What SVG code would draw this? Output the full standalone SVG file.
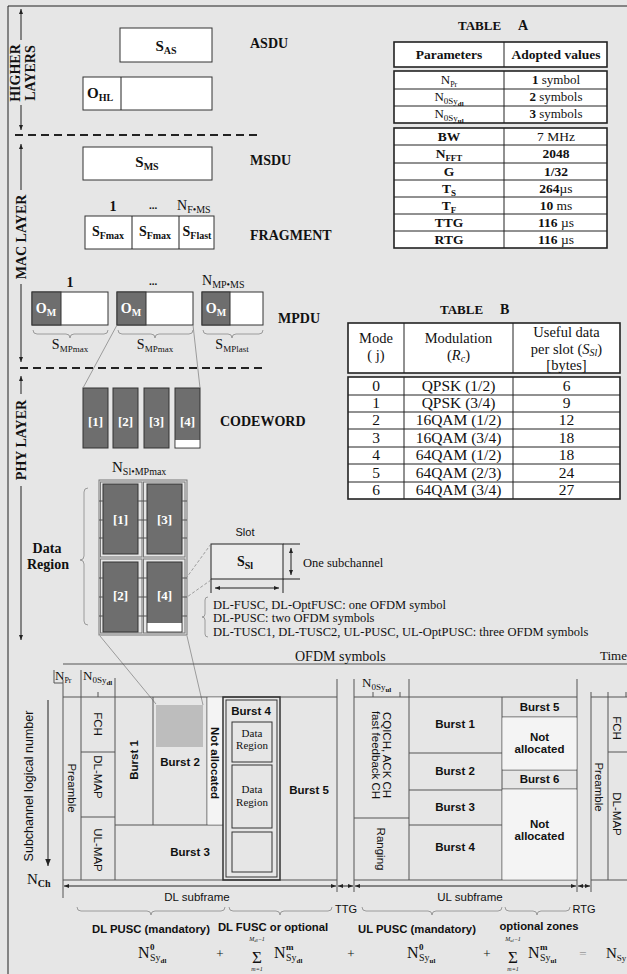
<svg xmlns="http://www.w3.org/2000/svg" width="627" height="974" viewBox="0 0 627 974">
<defs>
<marker id="ah" viewBox="0 0 10 10" refX="10" refY="5" markerWidth="5" markerHeight="5" orient="auto-start-reverse"><path d="M0,1 L10,5 L0,9 z" fill="#222"/></marker>
<marker id="ahb" viewBox="0 0 10 10" refX="10" refY="5" markerWidth="7" markerHeight="7" orient="auto-start-reverse"><path d="M0,1 L10,5 L0,9 z" fill="#222"/></marker>
</defs>
<style>
.sf{font-family:"Liberation Serif","Times New Roman",serif;fill:#111}
.ss{font-family:"Liberation Sans",Arial,sans-serif;fill:#111}
.b{font-weight:bold}
.w{fill:#fff}
.ln{stroke:#555;stroke-width:1;fill:none}
.lk{stroke:#222;stroke-width:1;fill:none}
.box{fill:#fff;stroke:#333;stroke-width:1}
.dk{fill:#6e6e6e;stroke:#333;stroke-width:1}
.tbo{fill:#fff;stroke:#222;stroke-width:1.6}
.dash{stroke:#222;stroke-width:2;stroke-dasharray:8,5;fill:none}
.gl{stroke:#888;stroke-width:0.8;fill:none}
.dl{stroke:#888;stroke-width:0.8;stroke-dasharray:3,2;fill:none}
.m{text-anchor:middle}
</style>
<rect x="0" y="0" width="627" height="974" fill="#e6e6e6"/>
<path class="lk" d="M8,6 H627 M8,6 V974"/>

<g id="layer-labels">
<path class="lk" d="M21,40 V9" marker-end="url(#ah)"/>
<path class="lk" d="M21,105 V130" marker-end="url(#ah)"/>
<text class="sf b m" font-size="14" transform="translate(20,73) rotate(-90)">HIGHER</text>
<text class="sf b m" font-size="14" transform="translate(35,73) rotate(-90)">LAYERS</text>
<path class="dash" d="M15,135 H262"/>
<path class="lk" d="M21,190 V144" marker-end="url(#ah)"/>
<path class="lk" d="M21,284 V362" marker-end="url(#ah)"/>
<text class="sf b m" font-size="14" transform="translate(26,237) rotate(-90)">MAC LAYER</text>
<path class="dash" d="M20,368 H267"/>
<path class="lk" d="M21,394 V376" marker-end="url(#ah)"/>
<path class="lk" d="M21,486 V640" marker-end="url(#ah)"/>
<text class="sf b m" font-size="14" transform="translate(26,440) rotate(-90)">PHY LAYER</text>
</g>

<g id="asdu">
<rect class="box" x="120" y="28" width="92" height="34"/>
<text class="sf b m" x="166" y="51" font-size="15">S<tspan font-size="10" dy="3">AS</tspan></text>
<text class="sf b" x="250" y="48" font-size="14">ASDU</text>
</g>
<g id="ohl">
<rect class="box" x="83" y="77" width="129" height="33"/>
<path class="lk" d="M121,77 V110"/>
<text class="sf b" x="87" y="98" font-size="15">O<tspan font-size="10" dy="3">HL</tspan></text>
</g>
<g id="msdu">
<rect class="box" x="83" y="147" width="129" height="33"/>
<text class="sf b m" x="147" y="167" font-size="15">S<tspan font-size="10" dy="3">MS</tspan></text>
<text class="sf b" x="250" y="165" font-size="14">MSDU</text>
</g>
<g id="fragment">
<text class="sf b m" x="113" y="211" font-size="14">1</text>
<text class="sf b m" x="153" y="209" font-size="11">...</text>
<text class="sf" x="177" y="210" font-size="14">N<tspan font-size="10" dy="3">F•MS</tspan></text>
<rect class="box" x="85" y="216" width="129" height="33"/>
<path class="lk" d="M132,216 V249 M179,216 V249"/>
<text class="sf b m" x="108" y="236" font-size="14">S<tspan font-size="10" dy="3">Fmax</tspan></text>
<text class="sf b m" x="155" y="236" font-size="14">S<tspan font-size="10" dy="3">Fmax</tspan></text>
<text class="sf b m" x="197" y="236" font-size="14">S<tspan font-size="10" dy="3">Flast</tspan></text>
<text class="sf b" x="250" y="240" font-size="14">FRAGMENT</text>
</g>
<g id="mpdu">
<text class="sf b m" x="70" y="287" font-size="14">1</text>
<text class="sf b m" x="153" y="285" font-size="11">...</text>
<text class="sf" x="202" y="285" font-size="14">N<tspan font-size="10" dy="3">MP•MS</tspan></text>
<rect class="box" x="32" y="292" width="76" height="33"/>
<rect class="dk" x="32" y="292" width="29" height="33"/>
<rect class="box" x="117" y="292" width="76" height="33"/>
<rect class="dk" x="117" y="292" width="29" height="33"/>
<rect class="box" x="202" y="292" width="61" height="33"/>
<rect class="dk" x="202" y="292" width="28" height="33"/>
<text class="sf b m w" x="46" y="313" font-size="14">O<tspan font-size="10" dy="3">M</tspan></text>
<text class="sf b m w" x="131" y="313" font-size="14">O<tspan font-size="10" dy="3">M</tspan></text>
<text class="sf b m w" x="216" y="313" font-size="14">O<tspan font-size="10" dy="3">M</tspan></text>
<path class="gl" d="M33,330 Q33,334 37,334 L66,334 Q70,334 70,338 Q70,334 74,334 L104,334 Q108,334 108,330"/>
<path class="gl" d="M118,330 Q118,334 122,334 L151,334 Q155,334 155,338 Q155,334 159,334 L189,334 Q193,334 193,330"/>
<path class="gl" d="M203,330 Q203,334 207,334 L228,334 Q232,334 232,338 Q232,334 236,334 L259,334 Q263,334 263,330"/>
<text class="sf m" x="70" y="349" font-size="14">S<tspan font-size="9" dy="3">MPmax</tspan></text>
<text class="sf m" x="155" y="349" font-size="14">S<tspan font-size="9" dy="3">MPmax</tspan></text>
<text class="sf m" x="232" y="349" font-size="14">S<tspan font-size="9" dy="3">MPlast</tspan></text>
<text class="sf b" x="278" y="323" font-size="14">MPDU</text>
</g>
<g id="codeword">
<rect class="dk" x="83" y="388" width="25" height="60"/>
<rect class="dk" x="113" y="388" width="25" height="60"/>
<rect class="dk" x="144" y="388" width="25" height="60"/>
<rect class="dk" x="175" y="388" width="25" height="60"/>
<rect x="175.5" y="440" width="24" height="7.5" fill="#fff"/>
<text class="sf b m w" x="95.5" y="426" font-size="13">[1]</text>
<text class="sf b m w" x="125.5" y="426" font-size="13">[2]</text>
<text class="sf b m w" x="156.5" y="426" font-size="13">[3]</text>
<text class="sf b m w" x="187.5" y="426" font-size="13">[4]</text>
<text class="sf b" x="220" y="426" font-size="14">CODEWORD</text>
</g>
<g id="data-region">
<text class="sf" x="112" y="472" font-size="15">N<tspan font-size="10" dy="3">Sl•MPmax</tspan></text>
<rect x="99" y="480" width="88" height="155" fill="none" stroke="#777" stroke-width="1"/>
<rect x="100.5" y="482" width="41.5" height="75" fill="none" stroke="#777"/>
<rect x="143.5" y="482" width="41.5" height="75" fill="none" stroke="#777"/>
<rect x="100.5" y="559" width="41.5" height="74" fill="none" stroke="#777"/>
<rect x="143.5" y="559" width="41.5" height="74" fill="none" stroke="#777"/>
<rect class="dk" x="103" y="484" width="35" height="70"/>
<rect class="dk" x="147" y="484" width="35" height="70"/>
<rect class="dk" x="103" y="562" width="35" height="70"/>
<rect class="dk" x="147" y="562" width="35" height="70"/>
<rect x="147.5" y="623" width="34" height="8.5" fill="#fff"/>
<path class="ln" d="M99,501 H103 M99,520 H103 M99,538 H103 M138,501 H147 M138,520 H147 M138,538 H147 M182,501 H187 M182,520 H187 M182,538 H187 M99,578 H103 M99,597 H103 M99,616 H103 M138,578 H147 M138,597 H147 M138,616 H147 M182,578 H187 M182,597 H187 M182,616 H187"/>
<text class="sf b m w" x="120.5" y="524" font-size="13">[1]</text>
<text class="sf b m w" x="164.5" y="524" font-size="13">[3]</text>
<text class="sf b m w" x="120.5" y="600" font-size="13">[2]</text>
<text class="sf b m w" x="164.5" y="600" font-size="13">[4]</text>
<path class="gl" d="M88,488 Q84,488 84,492 L84,556 Q84,560 80,560 Q84,560 84,564 L84,621 Q84,625 88,625"/>
<text class="sf b m" x="47" y="553" font-size="14">Data</text>
<text class="sf b m" x="48" y="569" font-size="14">Region</text>
</g>
<g id="slot">
<text class="ss m" x="245" y="536" font-size="11">Slot</text>
<rect x="211" y="544" width="72" height="35" fill="#ececec" stroke="#222"/>
<text class="sf b m" x="245" y="566" font-size="14">S<tspan font-size="10" dy="3">Sl</tspan></text>
<path class="lk" d="M283,544 H300 M283,579 H300 M211,579 V593 M283,579 V593"/>
<path class="lk" d="M291,548 V575" marker-start="url(#ah)" marker-end="url(#ah)"/>
<path class="lk" d="M215,588 H279" marker-start="url(#ah)" marker-end="url(#ah)"/>
<text class="sf" x="303" y="567" font-size="12.5">One subchannel</text>
<path class="gl" d="M208,597 Q205,597 205,600 L205,614 Q205,617 202,617 Q205,617 205,620 L205,634 Q205,637 208,637"/>
<text class="sf" x="213" y="609" font-size="12.5">DL-FUSC, DL-OptFUSC: one OFDM symbol</text>
<text class="sf" x="213" y="622" font-size="12.5">DL-PUSC: two OFDM symbols</text>
<text class="sf" x="213" y="636" font-size="12.5">DL-TUSC1, DL-TUSC2, UL-PUSC, UL-OptPUSC: three OFDM symbols</text>
</g>

<g id="table-a">
<text class="sf b" x="458" y="30" font-size="13">TABLE</text>
<text class="sf b" x="518" y="30" font-size="14">A</text>
<rect class="tbo" x="394" y="42" width="213" height="25"/>
<path class="lk" d="M504,42 V67"/>
<text class="sf b m" x="449" y="59" font-size="13.5">Parameters</text>
<text class="sf b m" x="556" y="59" font-size="13.5">Adopted values</text>
<rect class="tbo" x="394" y="71" width="213" height="52"/>
<path class="lk" d="M504,71 V123 M394,89 H607 M394,106 H607"/>
<text class="sf m" x="449" y="84" font-size="13">N<tspan font-size="8" dy="3">Pr</tspan></text>
<text class="sf m" x="449" y="101" font-size="13">N<tspan font-size="9" dy="3">0Sy</tspan><tspan font-size="7" font-weight="bold" dy="2">dl</tspan></text>
<text class="sf m" x="449" y="118" font-size="13">N<tspan font-size="9" dy="3">0Sy</tspan><tspan font-size="7" font-weight="bold" dy="2">ul</tspan></text>
<text class="sf m" x="556" y="84" font-size="13"><tspan font-weight="bold">1</tspan> symbol</text>
<text class="sf m" x="556" y="101" font-size="13"><tspan font-weight="bold">2</tspan> symbols</text>
<text class="sf m" x="556" y="118" font-size="13"><tspan font-weight="bold">3</tspan> symbols</text>
<rect class="tbo" x="394" y="128" width="213" height="120"/>
<path class="lk" d="M504,128 V248 M394,145 H607 M394,163 H607 M394,180 H607 M394,197 H607 M394,214 H607 M394,231 H607"/>
<text class="sf b m" x="449" y="141" font-size="13.5">BW</text>
<text class="sf b m" x="449" y="158" font-size="13.5">N<tspan font-size="9" dy="3">FFT</tspan></text>
<text class="sf b m" x="449" y="176" font-size="13.5">G</text>
<text class="sf b m" x="449" y="193" font-size="13.5">T<tspan font-size="9" dy="3">S</tspan></text>
<text class="sf b m" x="449" y="210" font-size="13.5">T<tspan font-size="9" dy="3">F</tspan></text>
<text class="sf b m" x="449" y="227" font-size="13.5">TTG</text>
<text class="sf b m" x="449" y="244" font-size="13.5">RTG</text>
<text class="sf m" x="556" y="141" font-size="13.5">7 MHz</text>
<text class="sf b m" x="556" y="158" font-size="13.5">2048</text>
<text class="sf b m" x="556" y="176" font-size="13.5">1/32</text>
<text class="sf m" x="556" y="193" font-size="13.5"><tspan font-weight="bold">264</tspan>µs</text>
<text class="sf m" x="556" y="210" font-size="13.5"><tspan font-weight="bold">10</tspan> ms</text>
<text class="sf m" x="556" y="227" font-size="13.5"><tspan font-weight="bold">116</tspan> µs</text>
<text class="sf m" x="556" y="244" font-size="13.5"><tspan font-weight="bold">116</tspan> µs</text>
</g>

<g id="table-b">
<text class="sf b" x="440" y="314" font-size="13">TABLE</text>
<text class="sf b" x="500" y="314" font-size="14">B</text>
<rect class="tbo" x="348" y="323" width="272" height="50"/>
<path class="lk" d="M404,323 V373 M513,323 V373"/>
<text class="sf m" x="376" y="343" font-size="14.5">Mode</text>
<text class="sf m" x="376" y="360" font-size="14.5">( j)</text>
<text class="sf m" x="458.5" y="343" font-size="14.5">Modulation</text>
<text class="sf m" x="458.5" y="360" font-size="14.5">(<tspan font-style="italic">R</tspan><tspan font-style="italic" font-size="10" dy="2">c</tspan><tspan dy="-2">)</tspan></text>
<text class="sf m" x="566.5" y="337" font-size="14.5">Useful data</text>
<text class="sf m" x="566.5" y="354" font-size="14.5">per slot (<tspan font-style="italic">S</tspan><tspan font-style="italic" font-size="10" dy="2">Sl</tspan><tspan dy="-2">)</tspan></text>
<text class="sf m" x="566.5" y="370" font-size="14.5">[bytes]</text>
<rect class="tbo" x="348" y="377" width="272" height="122"/>
<path class="lk" d="M404,377 V499 M513,377 V499 M348,395 H620 M348,412 H620 M348,429 H620 M348,447 H620 M348,464 H620 M348,482 H620"/>
<g class="sf m" font-size="15.5">
<text x="376" y="391">0</text><text x="458.5" y="391">QPSK (1/2)</text><text x="566.5" y="391">6</text>
<text x="376" y="408">1</text><text x="458.5" y="408">QPSK (3/4)</text><text x="566.5" y="408">9</text>
<text x="376" y="425">2</text><text x="458.5" y="425">16QAM (1/2)</text><text x="566.5" y="425">12</text>
<text x="376" y="443">3</text><text x="458.5" y="443">16QAM (3/4)</text><text x="566.5" y="443">18</text>
<text x="376" y="460">4</text><text x="458.5" y="460">64QAM (1/2)</text><text x="566.5" y="460">18</text>
<text x="376" y="478">5</text><text x="458.5" y="478">64QAM (2/3)</text><text x="566.5" y="478">24</text>
<text x="376" y="495">6</text><text x="458.5" y="495">64QAM (3/4)</text><text x="566.5" y="495">27</text>
</g>
</g>

<g id="connectors">
<path class="gl" d="M117,325 L83,388 M193,325 L200,388"/>
<path class="dl" d="M211,544 L187,577 M211,580 L187,597"/>
<path class="gl" d="M100,636 L156,704 M187,636 L203,705"/>
</g>

<g id="frame">
<path class="ln" d="M63,664 H627"/>
<text class="sf" x="295" y="661" font-size="14">OFDM symbols</text>
<text class="sf" x="600" y="660" font-size="13">Time</text>
<path class="ln" d="M54,670 V683 H63 M63,680 V898 M81,670 V880 M115,678 V880 M98,692 V697"/>
<text class="sf" x="55" y="680" font-size="13">N<tspan font-size="8" dy="3">Pr</tspan></text>
<text class="sf" x="83" y="680" font-size="13">N<tspan font-size="9" dy="3">0Sy</tspan><tspan font-size="7" font-weight="bold" dy="2">dl</tspan></text>
<path class="ln" d="M63,697 H337 M63,880 H337 M81,752 H115 M81,817 H115 M153,697 V825 M207,697 V825 M115,825 H223"/>
<rect x="207.5" y="697.5" width="15" height="127" fill="#f4f4f4"/>
<rect x="156" y="705" width="47" height="42" fill="#bdbdbd"/>
<rect x="223" y="697" width="57" height="183" fill="none" stroke="#333" stroke-width="1.5"/>
<rect x="226" y="700" width="51" height="177" fill="none" stroke="#333" stroke-width="1"/>
<rect x="232" y="722" width="40" height="40" fill="none" stroke="#333"/>
<rect x="232" y="765" width="40" height="63" fill="none" stroke="#333"/>
<rect x="232" y="832" width="40" height="40" fill="none" stroke="#333"/>
<g class="ss" font-size="11.5">
<text class="m" transform="translate(72,788) rotate(90)" dy="4">Preamble</text>
<text class="m" transform="translate(98,724) rotate(90)" dy="4">FCH</text>
<text class="m" transform="translate(98,777) rotate(90)" dy="4">DL-MAP</text>
<text class="m" transform="translate(98,850) rotate(90)" dy="4">UL-MAP</text>
<text class="m b" transform="translate(134,760) rotate(-90)" dy="4">Burst 1</text>
<text class="m b" x="180" y="766">Burst 2</text>
<text class="m b" transform="translate(215,763) rotate(90)" dy="4">Not allocated</text>
<text class="m b" x="251" y="715">Burst 4</text>
<text class="m b" x="190" y="856">Burst 3</text>
<text class="m b" x="309" y="794">Burst 5</text>
</g>
<g class="sf m" font-size="11">
<text x="252" y="737">Data</text><text x="252" y="749">Region</text>
<text x="252" y="793">Data</text><text x="252" y="806">Region</text>
</g>
<path class="ln" d="M337,679 V892 M354,679 V892 M409,679 V880 M577,679 V892 M373,692 V697 M400,692 V697"/>
<text class="sf" x="362" y="687" font-size="13">N<tspan font-size="9" dy="3">0Sy</tspan><tspan font-size="7" font-weight="bold" dy="2">ul</tspan></text>
<path class="ln" d="M354,697 H577 M354,880 H577 M354,818 H409 M409,753 H502 M409,790 H502 M409,825 H502 M502,697 V880 M502,717 H577 M502,770 H577 M502,789 H577"/>
<rect x="502.5" y="717.5" width="74" height="52" fill="#f4f4f4"/>
<rect x="502.5" y="789.5" width="74" height="90" fill="#f4f4f4"/>
<g class="ss" font-size="11.5">
<text transform="translate(382,755) rotate(90)" class="m" y="-1">CQICH, ACK CH</text>
<text transform="translate(382,755) rotate(90)" class="m" y="10">fast feedback CH</text>
<text class="m" transform="translate(381,849) rotate(90)" dy="4">Ranging</text>
<text class="m b" x="455" y="728">Burst 1</text>
<text class="m b" x="455" y="775">Burst 2</text>
<text class="m b" x="455" y="811">Burst 3</text>
<text class="m b" x="455" y="851">Burst 4</text>
<text class="m b" x="539.5" y="711">Burst 5</text>
<text class="m b" x="539.5" y="741">Not</text>
<text class="m b" x="539.5" y="753">allocated</text>
<text class="m b" x="539.5" y="783">Burst  6</text>
<text class="m b" x="539.5" y="828">Not</text>
<text class="m b" x="539.5" y="840">allocated</text>
</g>
<path class="ln" d="M591,692 V892 M608,692 V880 M626,692 V697 M591,697 H627 M608,752 H627 M591,880 H627"/>
<g class="ss" font-size="11.5">
<text class="m" transform="translate(599,787) rotate(90)" dy="4">Preamble</text>
<text class="m" transform="translate(617,728) rotate(90)" dy="4">FCH</text>
<text class="m" transform="translate(617,814) rotate(90)" dy="4">DL-MAP</text>
</g>
<path class="lk" d="M48,700 V866" marker-end="url(#ahb)"/>
<text class="ss m" font-size="12.5" transform="translate(33,786) rotate(-90)">Subchannel logical number</text>
<text class="sf" x="27" y="884" font-size="15">N<tspan font-size="10" font-weight="bold" dy="3">Ch</tspan></text>
</g>

<g id="subframes">
<path class="lk" d="M64,886 H336" marker-start="url(#ah)" marker-end="url(#ah)"/>
<path class="lk" d="M338,886 H353" marker-start="url(#ah)" marker-end="url(#ah)"/>
<path class="lk" d="M355,886 H576" marker-start="url(#ah)" marker-end="url(#ah)"/>
<path class="lk" d="M578,886 H590" marker-start="url(#ah)" marker-end="url(#ah)"/>
<text class="ss m" x="197" y="901" font-size="11.5">DL subframe</text>
<text class="ss m" x="470" y="901" font-size="11.5">UL subframe</text>
<text class="ss m" x="346" y="913" font-size="11">TTG</text>
<text class="ss m" x="584" y="913" font-size="11">RTG</text>
<path class="gl" d="M77,907 Q77,911 81,911 L147,911 Q151,911 151,915 Q151,911 155,911 L221,911 Q225,911 225,907"/>
<path class="gl" d="M229,907 Q229,911 233,911 L276,911 Q280,911 280,915 Q280,911 284,911 L328,911 Q332,911 332,907"/>
<path class="gl" d="M362,907 Q362,911 366,911 L428,911 Q432,911 432,915 Q432,911 436,911 L498,911 Q502,911 502,907"/>
<path class="gl" d="M505,907 Q505,911 509,911 L533,911 Q537,911 537,915 Q537,911 541,911 L566,911 Q570,911 570,907"/>
<text class="ss b m" x="151" y="933" font-size="11.3">DL PUSC (mandatory)</text>
<text class="ss b m" x="273" y="931" font-size="11.3">DL FUSC or optional</text>
<text class="ss b m" x="417" y="933" font-size="11.3">UL PUSC (mandatory)</text>
<text class="ss b m" x="539" y="930" font-size="11.3">optional zones</text>
</g>

<g id="formula" class="sf">
<text x="138" y="958" font-size="16">N</text>
<text x="150" y="950" font-size="9" font-weight="bold">0</text>
<text x="150" y="961" font-size="10">Sy<tspan font-size="7" font-weight="bold" dy="2">dl</tspan></text>
<text x="220" y="958" font-size="13" class="m">+</text>
<text x="257" y="963" font-size="17" class="m">Σ</text>
<text x="257" y="941" font-size="6" font-style="italic" class="m">M<tspan font-size="4.5" dy="1">dl</tspan><tspan dy="-1">−1</tspan></text>
<text x="257" y="971" font-size="6" font-style="italic" class="m">m=1</text>
<text x="274" y="958" font-size="16">N</text>
<text x="286" y="950" font-size="9" font-weight="bold">m</text>
<text x="286" y="961" font-size="10">Sy<tspan font-size="7" font-weight="bold" dy="2">dl</tspan></text>
<text x="351" y="958" font-size="13" class="m">+</text>
<text x="407" y="958" font-size="16">N</text>
<text x="419" y="950" font-size="9" font-weight="bold">0</text>
<text x="419" y="961" font-size="10">Sy<tspan font-size="7" font-weight="bold" dy="2">ul</tspan></text>
<text x="487" y="958" font-size="13" class="m">+</text>
<text x="513" y="963" font-size="17" class="m">Σ</text>
<text x="513" y="941" font-size="6" font-style="italic" class="m">M<tspan font-size="4.5" dy="1">ul</tspan><tspan dy="-1">−1</tspan></text>
<text x="513" y="971" font-size="6" font-style="italic" class="m">m=1</text>
<text x="528" y="958" font-size="16">N</text>
<text x="540" y="950" font-size="9" font-weight="bold">m</text>
<text x="540" y="961" font-size="10">Sy<tspan font-size="7" font-weight="bold" dy="2">ul</tspan></text>
<text x="583" y="958" font-size="13" class="m" fill="#999">=</text>
<text x="606" y="958" font-size="15">N<tspan font-size="9" dy="3">Sy</tspan></text>
</g>
</svg>
